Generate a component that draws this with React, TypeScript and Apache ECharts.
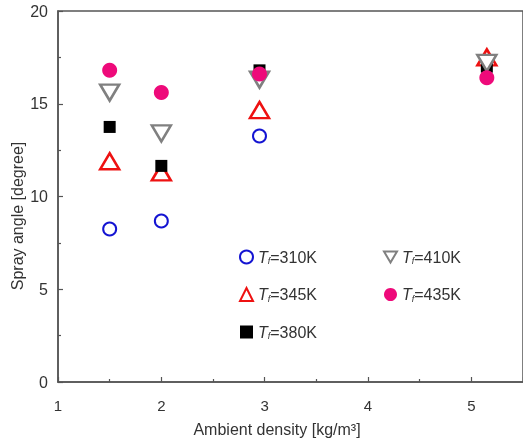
import React, { useEffect, useRef } from "react";
import * as echarts from "echarts";

const xTicks = [1, 2, 3, 4, 5];
const yTicks = [0, 5, 10, 15, 20];
const seriesNames = ["310K", "345K", "380K", "410K", "435K"];
const x310 = [1.5, 2.0, 2.95];
const y310 = [8.25, 8.68, 13.26];
const x345 = [1.5, 2.0, 2.95, 5.15];
const y345 = [11.9, 11.3, 14.66, 17.5];
const x380 = [1.5, 2.0, 2.95, 5.15];
const y380 = [13.75, 11.65, 16.8, 17.0];
const x410 = [1.5, 2.0, 2.95, 5.15];
const y410 = [15.6, 13.4, 16.3, 17.2];
const x435 = [1.5, 2.0, 2.95, 5.15];
const y435 = [16.8, 15.6, 16.6, 16.4];

const pair = (xs: number[], ys: number[]) => xs.map((x, i) => [x, ys[i]]);

const DOWN_TRI = "path://M0,0 L20,0 L10,17 Z";
const FONT = "Liberation Sans, Arial, sans-serif";

export default function App() {
  const ref = useRef<HTMLDivElement>(null);
  useEffect(() => {
    if (!ref.current) return;
    const chart = echarts.init(ref.current, null, { renderer: "svg" });
    const rich = {
      i: { fontStyle: "italic", fontSize: 16, color: "#333", fontFamily: FONT },
      s: { fontStyle: "italic", fontSize: 9, color: "#333", fontFamily: FONT, padding: [8, 0, 0, 0] },
      n: { fontSize: 16, color: "#333", fontFamily: FONT },
    };
    const legendBase = {
      orient: "vertical",
      itemWidth: 13,
      itemHeight: 13,
      itemGap: 21,
      formatter: (name: string) => `{i|T}{s|f}{n|=${name}}`,
      textStyle: { rich },
    };
    chart.setOption({
      animation: false,
      textStyle: { fontFamily: FONT },
      grid: { left: 58, top: 11, right: -2, bottom: 60, show: true, borderColor: "#555", borderWidth: 1.5 },
      xAxis: {
        type: "value",
        min: 1,
        max: 5.5,
        interval: 1,
        axisLine: { show: true, lineStyle: { color: "#555", width: 1.5 } },
        axisTick: { show: true, inside: true, length: 5, lineStyle: { color: "#555", width: 1.2 } },
        minorTick: { show: true, splitNumber: 2, length: 3, lineStyle: { color: "#555", width: 1.2 } },
        splitLine: { show: false },
        axisLabel: {
          margin: 16,
          fontSize: 15,
          color: "#333",
          customValues: xTicks,
          formatter: (v: number) => (v > 5 ? "" : String(v)),
        },
      },
      yAxis: {
        type: "value",
        min: 0,
        max: 20,
        interval: 5,
        axisLine: { show: true, lineStyle: { color: "#555", width: 1.5 } },
        axisTick: { show: true, inside: true, length: 5, lineStyle: { color: "#555", width: 1.2 } },
        minorTick: { show: true, splitNumber: 2, length: 3, lineStyle: { color: "#555", width: 1.2 } },
        splitLine: { show: false },
        axisLabel: { margin: 10, fontSize: 16, color: "#333", customValues: yTicks },
      },
      legend: [
        { ...legendBase, left: 234, top: 244, data: ["310K", "345K", "380K"] },
        { ...legendBase, left: 378, top: 244, data: ["410K", "435K"] },
      ],
      graphic: [
        {
          type: "text",
          x: 277,
          y: 429,
          style: {
            text: "Ambient density [kg/m³]",
            fontSize: 16,
            fill: "#333",
            fontFamily: FONT,
            align: "center",
            verticalAlign: "middle",
          },
        },
        {
          type: "text",
          x: 17,
          y: 216,
          rotation: Math.PI / 2,
          style: {
            text: "Spray angle [degree]",
            fontSize: 16,
            fill: "#333",
            fontFamily: FONT,
            align: "center",
            verticalAlign: "middle",
          },
        },
      ],
      series: [
        {
          name: seriesNames[0],
          type: "scatter",
          data: pair(x310, y310),
          symbol: "circle",
          symbolSize: 13,
          itemStyle: { color: "#fff", borderColor: "#1414d2", borderWidth: 2, opacity: 1 },
        },
        {
          name: seriesNames[1],
          type: "scatter",
          data: pair(x345, y345),
          symbol: "triangle",
          symbolSize: [19, 16],
          itemStyle: { color: "#fff", borderColor: "#ee1111", borderWidth: 2.5, opacity: 1 },
        },
        {
          name: seriesNames[2],
          type: "scatter",
          data: pair(x380, y380),
          symbol: "rect",
          symbolSize: 12,
          itemStyle: { color: "#000", opacity: 1 },
        },
        {
          name: seriesNames[3],
          type: "scatter",
          data: pair(x410, y410),
          symbol: DOWN_TRI,
          symbolSize: [19, 16],
          itemStyle: { color: "#fff", borderColor: "#808080", borderWidth: 2.5, opacity: 1 },
        },
        {
          name: seriesNames[4],
          type: "scatter",
          data: pair(x435, y435),
          symbol: "circle",
          symbolSize: 15,
          itemStyle: { color: "#ee0a7a", opacity: 1 },
        },
      ],
    });
    return () => chart.dispose();
  }, []);
  return <div ref={ref} style={{ width: 523, height: 442, position: "fixed", left: 0, top: 0 }} />;
}
